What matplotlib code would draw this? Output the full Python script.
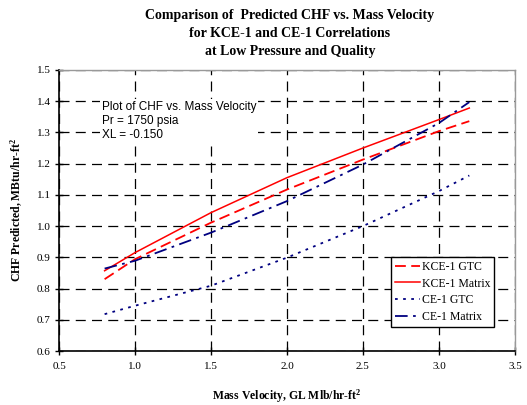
import matplotlib
matplotlib.use("Agg")
import matplotlib.pyplot as plt

x_vals = [0.8, 1.0, 1.5, 2.0, 2.5, 3.0, 3.2]
kce_gtc = [0.830, 0.894, 1.011, 1.117, 1.213, 1.304, 1.336]
kce_matrix = [0.857, 0.915, 1.043, 1.155, 1.250, 1.341, 1.378]
ce_gtc = [0.718, 0.745, 0.809, 0.899, 1.000, 1.112, 1.162]
ce_matrix = [0.864, 0.889, 0.979, 1.080, 1.197, 1.330, 1.397]

xticks = [0.5, 1.0, 1.5, 2.0, 2.5, 3.0, 3.5]
yticks = [0.6, 0.7, 0.8, 0.9, 1.0, 1.1, 1.2, 1.3, 1.4, 1.5]

serif = "Liberation Serif"
sans = "Liberation Sans"

plt.rcParams["mathtext.fontset"] = "custom"
plt.rcParams["mathtext.rm"] = "Liberation Serif"
plt.rcParams["mathtext.bf"] = "Liberation Serif:bold"
plt.rcParams["mathtext.default"] = "bf"

fig = plt.figure(figsize=(5.27, 4.05), dpi=100)
ax = fig.add_axes([0.112, 0.1333, 0.865, 0.694])

ax.set_xlim(0.5, 3.5)
ax.set_ylim(0.6, 1.5)
ax.set_xticks(xticks)
ax.set_yticks(yticks)
ax.set_xticklabels([f"{v:.1f}" for v in xticks], fontfamily=serif, fontsize=8)
ax.set_yticklabels([f"{v:.1f}" for v in yticks], fontfamily=serif, fontsize=8)
ax.tick_params(direction="inout", length=6, width=1, colors="black", pad=3)
ax.tick_params(axis="x", pad=5)

ax.grid(True, color="black", linestyle=(0, (8, 5)), linewidth=0.9)
ax.set_axisbelow(True)

for s in ["top", "right"]:
    ax.spines[s].set_color("#999999")
    ax.spines[s].set_linewidth(1)
for s in ["left", "bottom"]:
    ax.spines[s].set_color("black")
    ax.spines[s].set_linewidth(1.2)

ax.plot(x_vals, kce_gtc, color="#ff0000", linestyle=(0, (6, 3)), linewidth=1.3, label="KCE-1 GTC")
ax.plot(x_vals, kce_matrix, color="#ff0000", linestyle="-", linewidth=1.1, label="KCE-1 Matrix")
ax.plot(x_vals, ce_gtc, color="#000080", linestyle=(0, (1.5, 3)), linewidth=1.3, label="CE-1 GTC")
ax.plot(x_vals, ce_matrix, color="#000080", linestyle=(0, (7, 3, 1.5, 3)), linewidth=1.3, label="CE-1 Matrix")

leg = ax.legend(loc="lower right", bbox_to_anchor=(0.955, 0.085), prop={"family": serif, "size": 8.5},
                frameon=True, fancybox=False, edgecolor="black", framealpha=1,
                handlelength=2.1, handletextpad=0.15, borderpad=0.35, labelspacing=0.4,
                borderaxespad=0)
leg.get_frame().set_linewidth(1.0)

ax.text(0.094, 0.89, "Plot of CHF vs. Mass Velocity\nPr = 1750 psia\nXL = -0.150",
        transform=ax.transAxes, fontfamily=sans, fontsize=8.5, va="top", ha="left",
        linespacing=1.22, bbox=dict(facecolor="white", edgecolor="none", pad=1))

ax.set_xlabel("Mass Velocity, GL Mlb/hr-ft$^2$", fontfamily=serif, fontsize=8.5, fontweight="bold")
ax.set_ylabel("CHF Predicted, MBtu/hr-ft$^2$", fontfamily=serif, fontsize=8.5, fontweight="bold")
ax.xaxis.set_label_coords(0.5, -0.13)
ax.yaxis.set_label_coords(-0.075, 0.5)

fig.suptitle("Comparison of  Predicted CHF vs. Mass Velocity\nfor KCE-1 and CE-1 Correlations\nat Low Pressure and Quality",
             x=0.55, y=0.977, fontfamily=serif, fontsize=10, fontweight="bold", linespacing=1.5)

fig.savefig("out.png", dpi=100)
